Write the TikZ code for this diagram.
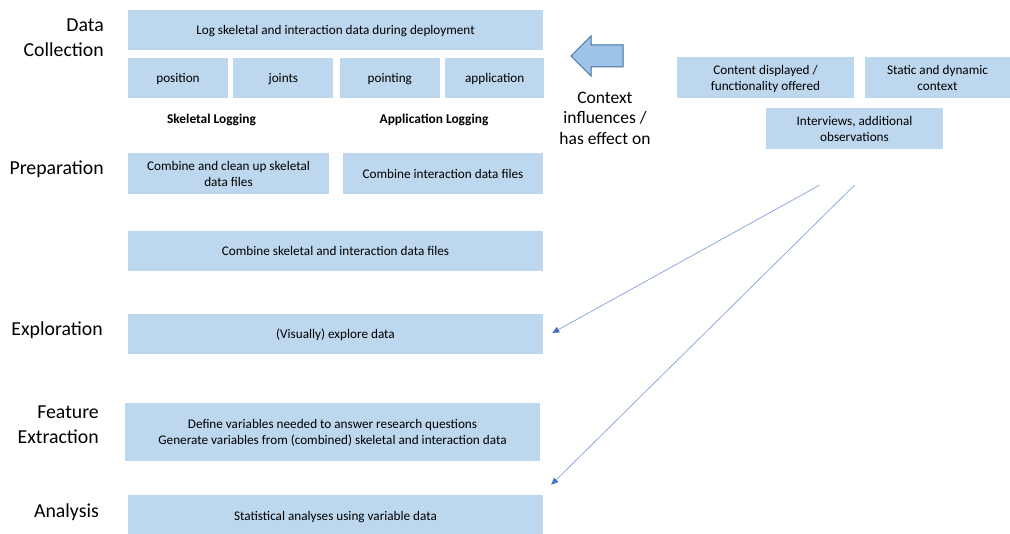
\documentclass[tikz,border=0pt]{standalone}
\usepackage{fontspec}
\setmainfont{Carlito}
\usetikzlibrary{positioning,arrows.meta,calc}
\definecolor{boxfill}{HTML}{BDD7EE}
\definecolor{arrfill}{HTML}{9DC3E6}
\definecolor{arredge}{HTML}{41719C}
\definecolor{linkline}{HTML}{8FAADC}
\definecolor{linktip}{HTML}{4472C4}

\begin{document}
\begin{tikzpicture}[x=1pt,y=-1pt,
    stage/.style={fill=boxfill, inner sep=0pt, align=center, minimum height=40, text depth=0pt,
      font=\fontsize{13.2}{16}\selectfont},
    phase/.style={anchor=east, align=right, inner sep=0pt, font=\fontsize{19.8}{25}\selectfont},
    logtitle/.style={font=\bfseries\fontsize{13.4}{16}\selectfont},
    link/.style={draw=linkline, line width=0.8pt, -{Triangle[length=7pt,width=6pt,color=linktip]}}]
  \useasboundingbox (0,0) rectangle (1010,534);

  % phases on the left
  \node[phase] (pcollect) at (104,38) {Data\\Collection};
  \node[phase] (pprep) at (104,169) {Preparation};
  \node[phase] (pexplore) at (103,330) {Exploration};
  \node[phase] (pfeature) at (99,425) {Feature\\Extraction};
  \node[phase] (panalysis) at (99,512) {Analysis};

  % data collection
  \node[stage, minimum width=415] (log) at (335.5,30) {Log skeletal and interaction data during deployment};
  \node[stage, minimum width=100] (pos) at (178,78) {position};
  \node[stage, minimum width=100, right=5 of pos] (joints) {joints};
  \node[stage, minimum width=100, right=6 of joints] (pointing) {pointing};
  \node[stage, minimum width=99, right=5 of pointing] (app) {application};
  \node[logtitle] (skellog) at (211.5,119.5) {Skeletal Logging};
  \node[logtitle] (applog) at (434,119.5) {Application Logging};

  % preparation
  \node[stage, minimum width=201, minimum height=41] (clean) at (228.5,173.5) {Combine and clean up skeletal\\data files};
  \node[stage, minimum width=200, minimum height=41] (intfiles) at (443,173.5) {Combine interaction data files};
  \node[stage, minimum width=415] (combine) at (335.5,251) {Combine skeletal and interaction data files};

  % exploration, features, analysis
  \node[stage, minimum width=415] (explore) at (335.5,334) {(Visually) explore data};
  \node[stage, minimum width=415, minimum height=58] (feature) at (332.5,432) {Define variables needed to answer research questions\\Generate variables from (combined) skeletal and interaction data};
  \node[stage, minimum width=415, minimum height=41] (stats) at (335.5,515.5) {Statistical analyses using variable data};

  % context
  \draw[fill=arrfill, draw=arredge, line width=1pt] (623,45) -- (591,45) -- (591,36) -- (571,56)
    -- (591,76) -- (591,67) -- (623,67) -- cycle;
  \node[align=center, font=\fontsize{17.5}{20.5}\selectfont] (ctx) at (605,118) {Context\\influences /\\has effect on};
  \node[stage, minimum width=177, minimum height=41] (content) at (765.5,77.5) {Content displayed /\\functionality offered};
  \node[stage, minimum width=145, minimum height=41] (static) at (937.5,77.5) {Static and dynamic\\context};
  \node[stage, minimum width=177, minimum height=41] (interv) at (854.5,128.5) {Interviews, additional\\observations};

  \coordinate (src1) at ($(interv.south)+(-35,36)$);
  \coordinate (src2) at ($(interv.south)+(0,36)$);
  \coordinate (dst1) at ($(explore.east)+(9,-1)$);
  \coordinate (dst2) at ($(stats.north east)+(8,-10)$);
  \draw[link] (src1) -- (dst1);
  \draw[link] (src2) -- (dst2);
\end{tikzpicture}
\end{document}
